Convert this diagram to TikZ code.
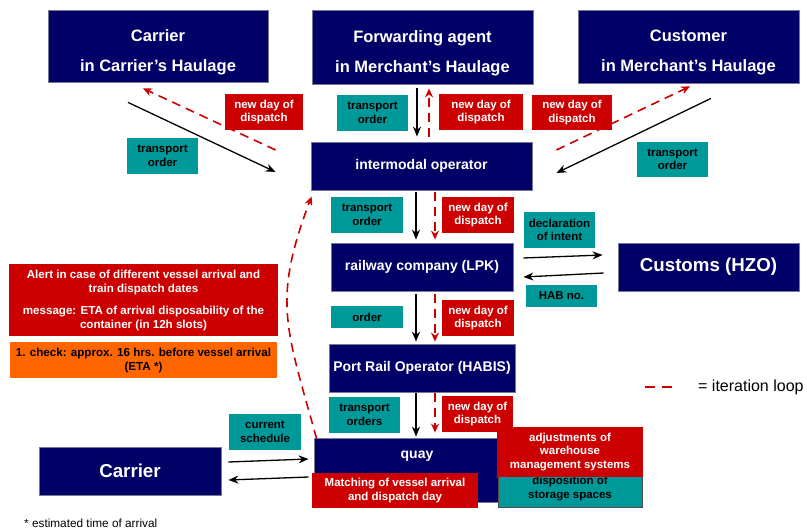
\documentclass[tikz,border=0pt]{standalone}
\usepackage{fontspec}
\setmainfont{Liberation Sans}
\usetikzlibrary{arrows.meta}
\definecolor{navy}{RGB}{0,0,102}
\definecolor{tealbox}{RGB}{0,153,153}
\definecolor{redbox}{RGB}{204,0,0}
\definecolor{orangebox}{RGB}{255,102,0}
\definecolor{rim}{RGB}{120,120,150}
\begin{document}
\begin{tikzpicture}[x=1pt,y=-1pt,
	navybox/.style={draw=rim,line width=0.8pt,fill=navy,text=white,align=center,inner sep=0pt},
	topfont/.style={font=\fontsize{16.5}{30}\selectfont\bfseries},
	midfont/.style={font=\fontsize{14}{16}\selectfont\bfseries},
	bigfont/.style={font=\fontsize{18.7}{20}\selectfont\bfseries},
	tagbox/.style={inner sep=0pt,align=center,font=\fontsize{11.5}{13.5}\selectfont\bfseries},
	tealtag/.style={tagbox,fill=tealbox,text=black},
	redtag/.style={tagbox,fill=redbox,text=white},
	orderarrow/.style={line width=1.3pt,-{Stealth[length=10pt,width=8pt]}},
	iterarrow/.style={redbox,line width=1.6pt,dash pattern=on 9pt off 6pt,-{Stealth[length=9pt,width=8pt]}}]
	\useasboundingbox (0,0) rectangle (807,530);
	% parties
	\node[navybox,topfont,minimum width=220pt,minimum height=72pt] (carrierTop) at (158,46) {\rule{0pt}{24pt}Carrier\\in Carrier’s Haulage};
	\node[navybox,topfont,minimum width=221pt,minimum height=74pt] (forwarder) at (422.5,47) {\rule{0pt}{24pt}Forwarding agent\\in Merchant’s Haulage};
	\node[navybox,topfont,minimum width=221pt,minimum height=73pt] (customer) at (688.5,46.5) {\rule{0pt}{24pt}Customer\\in Merchant’s Haulage};
	\node[navybox,midfont,minimum width=221pt,minimum height=48pt] (intermodal) at (421.5,166) {intermodal operator};
	\node[navybox,midfont,minimum width=182pt,minimum height=48pt] (railway) at (422,267) {railway company (LPK)};
	\node[navybox,midfont,minimum width=186pt,minimum height=48pt] (portrail) at (422,368) {Port Rail Operator (HABIS)};
	\node[navybox,midfont,minimum width=206pt,text height=20pt,text depth=44pt] (quay) at (417,470) {quay};
	\node[navybox,bigfont,minimum width=181pt,minimum height=48pt] (customs) at (708.5,267) {Customs (HZO)};
	\node[navybox,bigfont,minimum width=182pt,minimum height=48pt] (carrierBot) at (130,471) {Carrier};
	% tags
	\node[tealtag,minimum width=71pt,minimum height=36pt] (orderCarrier) at (162.5,156) {transport\\order};
	\node[tealtag,minimum width=71pt,minimum height=36pt] (orderFwd) at (372.5,113) {transport\\order};
	\node[tealtag,minimum width=71pt,minimum height=35pt] (orderCust) at (672.5,159.5) {transport\\order};
	\node[tealtag,minimum width=72pt,minimum height=36pt] (orderRail) at (367,215) {transport\\order};
	\node[tealtag,minimum width=72pt,minimum height=22pt] (orderPort) at (367,317) {order};
	\node[tealtag,minimum width=71pt,minimum height=36pt] (orderQuay) at (364.5,415) {transport\\orders};
	\node[tealtag,minimum width=71pt,minimum height=36pt] (intent) at (559.5,230) {declaration\\of intent};
	\node[tealtag,minimum width=71pt,minimum height=22pt] (habno) at (561.5,296) {HAB no.};
	\node[tealtag,minimum width=72pt,minimum height=36pt] (schedule) at (265,432) {current\\schedule};
	\node[tealtag,draw=black!70,line width=0.8pt,minimum width=144pt,minimum height=37pt] (storage) at (570,488.5) {disposition of\\storage spaces};
	\node[redtag,minimum width=78pt,minimum height=36pt] (dayCarrier) at (264,112) {new day of\\dispatch};
	\node[redtag,minimum width=84pt,minimum height=36pt] (dayFwd) at (481,112) {new day of\\dispatch};
	\node[redtag,minimum width=80pt,minimum height=35pt] (dayCust) at (572,112.5) {new day of\\dispatch};
	\node[redtag,minimum width=72pt,minimum height=36pt] (dayRail) at (478,215) {new day of\\dispatch};
	\node[redtag,minimum width=72pt,minimum height=36pt] (dayPort) at (478,318) {new day of\\dispatch};
	\node[redtag,minimum width=71pt,minimum height=36pt] (dayQuay) at (477.5,414) {new day of\\dispatch};
	\node[redtag,minimum width=146pt,minimum height=50pt] (warehouse) at (570,452) {adjustments of\\warehouse\\management systems};
	\node[redtag,minimum width=166pt,minimum height=35pt] (matching) at (395,490.5) {Matching of vessel arrival\\and dispatch day};
	\node[redtag,font=\fontsize{11.6}{14}\selectfont\bfseries,minimum width=269pt,minimum height=72pt] (alert) at (143.5,300)
		{Alert in case of different vessel arrival and\\train dispatch dates\\[8pt]message: ETA of arrival disposability of the\\container (in 12h slots)};
	\node[tagbox,fill=orangebox,text=black,font=\fontsize{11.6}{14}\selectfont\bfseries,minimum width=267pt,minimum height=36pt] (check) at (143.5,360)
		{1. check: approx. 16 hrs. before vessel arrival\\(ETA *)};
	% orders
	\draw[orderarrow] ([xshift=-30pt,yshift=-20pt]carrierTop.south) -- ([xshift=-35pt,yshift=-6pt]intermodal.west);
	\draw[orderarrow] ([xshift=-5.5pt,yshift=-4pt]forwarder.south) -- ([xshift=-4.5pt,yshift=5pt]intermodal.north);
	\draw[orderarrow] ([xshift=22.5pt,yshift=-15pt]customer.south) -- ([xshift=24pt,yshift=-7pt]intermodal.east);
	\draw[orderarrow] ([xshift=-5.5pt,yshift=-2pt]intermodal.south) -- ([xshift=-6pt,yshift=3pt]railway.north);
	\draw[orderarrow] ([xshift=-6pt,yshift=-3pt]railway.south) -- ([xshift=-6pt,yshift=2pt]portrail.north);
	\draw[orderarrow] ([xshift=-6pt,yshift=-1pt]portrail.south) -- ([xshift=-1pt,yshift=1pt]quay.north);
	\draw[orderarrow] ([xshift=10pt,yshift=9pt]railway.east) -- ([xshift=-15pt,yshift=12pt]customs.west);
	\draw[orderarrow] ([xshift=-14pt,yshift=-6pt]customs.west) -- ([xshift=10pt,yshift=-10pt]railway.east);
	\draw[orderarrow] ([xshift=7pt,yshift=9pt]carrierBot.east) -- ([xshift=-5pt,yshift=11pt]quay.west);
	\draw[orderarrow] ([xshift=-5pt,yshift=-7pt]quay.west) -- ([xshift=7pt,yshift=-9pt]carrierBot.east);
	% iteration loops
	\draw[iterarrow] ([xshift=-35pt,yshift=16pt]intermodal.west) -- ([xshift=-15pt,yshift=-6pt]carrierTop.south);
	\draw[iterarrow] ([xshift=7.5pt,yshift=5pt]intermodal.north) -- ([xshift=6.5pt,yshift=-4pt]forwarder.south);
	\draw[iterarrow] ([xshift=24pt,yshift=16pt]intermodal.east) -- ([xshift=1.5pt,yshift=-3pt]customer.south);
	\draw[iterarrow] ([xshift=13.5pt,yshift=-2pt]intermodal.south) -- ([xshift=13pt,yshift=3pt]railway.north);
	\draw[iterarrow] ([xshift=13pt,yshift=-3pt]railway.south) -- ([xshift=13pt,yshift=2pt]portrail.north);
	\draw[iterarrow] ([xshift=13pt,yshift=-1pt]portrail.south) -- ([xshift=18pt,yshift=5pt]quay.north);
	\draw[iterarrow] ([xshift=3pt,yshift=-1pt]quay.north west) .. controls (286,328) and (272,301) .. ([xshift=1pt,yshift=-6pt]intermodal.south west);
	% legend
	\coordinate (legA) at (645,387);
	\coordinate (legB) at (676,387);
	\draw[redbox,line width=1.6pt,dash pattern=on 10pt off 7pt] (legA) -- (legB);
	\node[anchor=west,inner sep=0pt,font=\fontsize{16}{18}\selectfont] (legtext) at (698,387) {= iteration loop};
	\node[anchor=west,inner sep=0pt,font=\fontsize{11.8}{13}\selectfont] (footnote) at (24,523) {* estimated time of arrival};
\end{tikzpicture}
\end{document}
